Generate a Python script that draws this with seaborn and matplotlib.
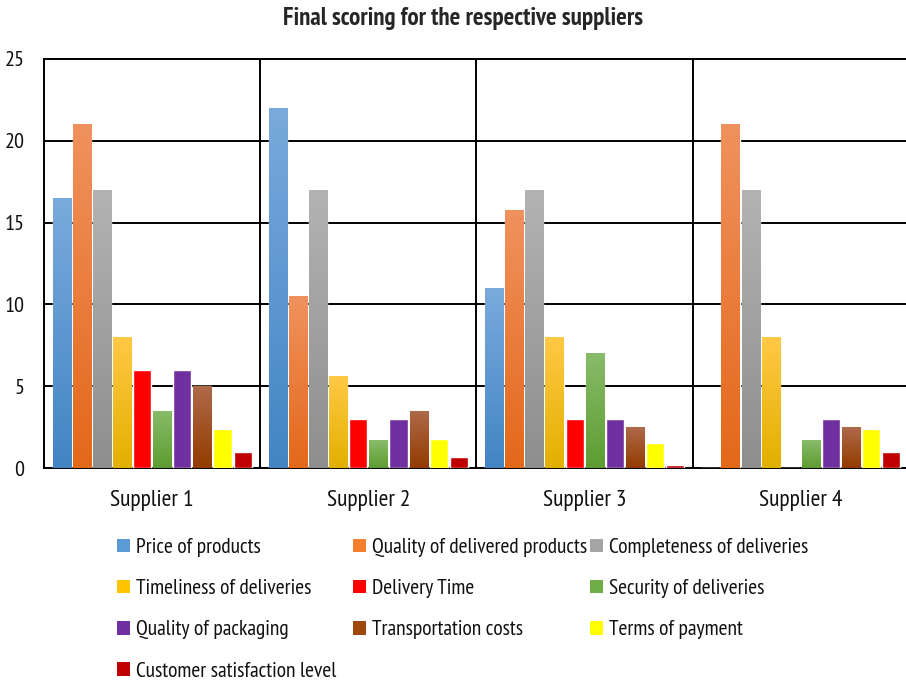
import matplotlib
matplotlib.use("Agg")
import matplotlib.pyplot as plt
from matplotlib.colors import LinearSegmentedColormap
from matplotlib.patches import Patch
import numpy as np
import pandas as pd
import seaborn as sns

suppliers = ["Supplier 1", "Supplier 2", "Supplier 3", "Supplier 4"]
criteria = ["Price of products", "Quality of delivered products", "Completeness of deliveries",
            "Timeliness of deliveries", "Delivery Time", "Security of deliveries",
            "Quality of packaging", "Transportation costs", "Terms of payment",
            "Customer satisfaction level"]

price = [16.5, 22, 11, 0]
quality = [21, 10.5, 15.75, 21]
completeness = [17, 17, 17, 17]
timeliness = [8, 5.6, 8, 8]
delivery_time = [6, 3, 3, 0]
security = [3.5, 1.7, 7, 1.7]
packaging = [6, 3, 3, 3]
transport = [5, 3.5, 2.5, 2.5]
terms = [2.4, 1.8, 1.5, 2.4]
customer = [1, 0.7, 0.2, 1]

series = [price, quality, completeness, timeliness, delivery_time,
          security, packaging, transport, terms, customer]

# base colour + (bottom, top) gradient stops, None = flat fill
base_cols = ["#5B9BD5", "#F47F2E", "#A5A5A5", "#FFC600", "#FF0000",
             "#70AD47", "#7030A0", "#9E480E", "#FFFF00", "#C00000"]
grads = [("#4285C4", "#7AAADD"), ("#E3681A", "#F0925E"), ("#8E8E8E", "#B3B3B3"),
         ("#E2B000", "#FFC945"), None, ("#5E9C31", "#88BC6A"), None,
         ("#933B00", "#AF6A4A"), None, None]

rows = []
for c, vals in zip(criteria, series):
    for s, v in zip(suppliers, vals):
        rows.append({"supplier": s, "criterion": c, "score": v})
df = pd.DataFrame(rows)

sns.set_style("white")
plt.rcParams["font.family"] = ["PT Sans Narrow", "DejaVu Sans"]

fig = plt.figure(figsize=(9.06, 6.82), dpi=100)
ax = fig.add_axes([44 / 906, 1 - 468 / 682, 865 / 906, 409 / 682])

sns.barplot(data=df, x="supplier", y="score", hue="criterion", hue_order=criteria,
            palette=base_cols, saturation=1, width=0.93, gap=0.1, legend=False,
            errorbar=None, ax=ax, zorder=3)

# gradient fills, clipped to each bar
ramp = np.linspace(0, 1, 256).reshape(-1, 1)
for cont, g in zip(ax.containers, grads):
    if g is None:
        continue
    cmap = LinearSegmentedColormap.from_list("g", [g[0], g[1]])
    for bar in cont:
        h = bar.get_height()
        if h <= 0:
            continue
        x0, w = bar.get_x(), bar.get_width()
        im = ax.imshow(ramp, cmap=cmap, origin="lower", aspect="auto",
                       extent=[x0, x0 + w, 0, h], zorder=4, interpolation="bilinear")
        im.set_clip_path(bar)

ax.set_xlim(-0.5, len(suppliers) - 0.5)
ax.set_ylim(0, 25)
ax.set_yticks([0, 5, 10, 15, 20, 25])
ax.set_xticks(np.arange(len(suppliers) + 1) - 0.5, minor=True)
ax.set_axisbelow(True)
ax.yaxis.grid(True, color="black", lw=1.4)
ax.xaxis.grid(True, which="minor", color="black", lw=1.4)
ax.xaxis.grid(False, which="major")
for sp in ax.spines.values():
    sp.set_color("black")
    sp.set_linewidth(1.4)
ax.tick_params(axis="both", which="both", length=0, colors="#111111")
ax.tick_params(axis="y", pad=14, labelsize=16)
ax.tick_params(axis="x", pad=16, labelsize=17)
ax.set_xlabel("")
ax.set_ylabel("")

fig.text(463 / 906, 1 - 18 / 682, "Final scoring for the respective suppliers",
         ha="center", va="center", fontsize=18, fontweight="bold")

# legend: three columns laid out row by row, like the original
handles = [Patch(facecolor=c, edgecolor="none") for c in base_cols]
col_x = [117, 353, 590]
for k, x in enumerate(col_x):
    idx = list(range(k, len(criteria), 3))
    leg = fig.legend([handles[i] for i in idx], [criteria[i] for i in idx],
                     loc="upper left", bbox_to_anchor=(x / 906, 1 - 538 / 682),
                     frameon=False, fontsize=15.5, handlelength=0.6, handleheight=0.6,
                     handletextpad=0.3, labelspacing=1.03,
                     borderpad=0, borderaxespad=0)
    for t in leg.get_texts():
        t.set_color("#111111")

fig.savefig("out.png", dpi=100)
